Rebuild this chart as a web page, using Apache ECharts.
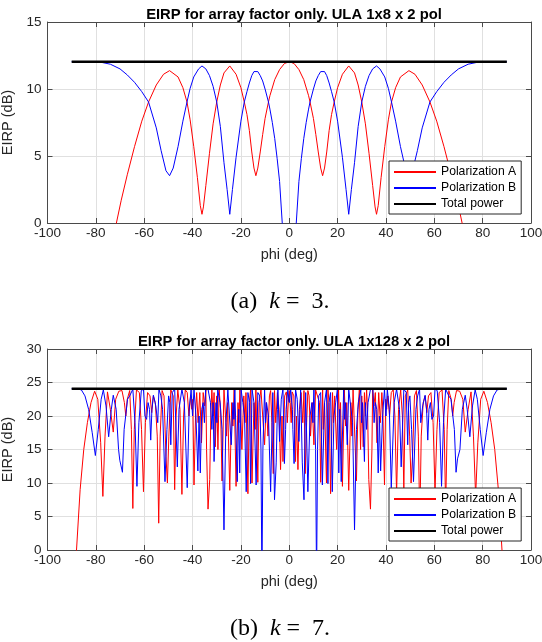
<!DOCTYPE html>
<html>
<head>
<meta charset="utf-8">
<script src="https://cdn.jsdelivr.net/npm/echarts@6/dist/echarts.min.js"></script>
<style>html,body{margin:0;padding:0;background:#fff}#c{width:542px;height:642px}</style>
</head>
<body>
<div id="c"></div>
<script>
// ---------- Texts / ticks ----------
const titleA = 'EIRP for array factor only. ULA 1x8 x 2 pol';
const titleB = 'EIRP for array factor only. ULA 1x128 x 2 pol';
const xTicks = [-100, -80, -60, -40, -20, 0, 20, 40, 60, 80, 100];
const yMaxA = 15, yMaxB = 30, yStep = 5;

// ---------- Data: (a) k = 3, ULA 1x8 x 2 pol ----------
const totalA = [[-90, 12.04], [90, 12.04]];

const polA_k3 = [[-90,-30],[-86,-20],[-82,-13],[-78,-7],[-74,-2.5],[-71.5,0],[-69.5,1.7],[-67,3.6],[-64,5.7],[-61,7.6],[-58.2,9.03],[-55,10.3],[-52,11.1],[-49.5,11.37],[-46,10.9],[-44,10.1],[-42.3,9.03],[-41,7.7],[-39.5,5.7],[-38,3.4],[-36.8,1.3],[-36.1,0.65],[-35.5,1.2],[-34.5,2.8],[-33,5.2],[-31.5,7.4],[-30,9.03],[-28.5,10.3],[-27,11.2],[-24.6,11.72],[-22,11.1],[-20,10.1],[-18.6,9.03],[-17.5,8.1],[-16.5,6.9],[-15.5,5.3],[-14.6,4.1],[-13.8,3.53],[-13,4.1],[-12,5.3],[-11,6.6],[-10,7.8],[-8.6,9.03],[-8,9.5],[-6,10.7],[-4,11.45],[-2,11.9],[0,12.04],
[2,11.9],[4,11.45],[6,10.7],[8,9.5],[8.6,9.03],[10,7.8],[11,6.6],[12,5.3],[13,4.1],[13.8,3.53],[14.6,4.1],[15.5,5.3],[16.5,6.9],[17.5,8.1],[18.6,9.03],[20,10.1],[22,11.1],[24.6,11.72],[27,11.2],[28.5,10.3],[30,9.03],[31.5,7.4],[33,5.2],[34.5,2.8],[35.5,1.2],[36.1,0.65],[36.8,1.3],[38,3.4],[39.5,5.7],[41,7.7],[42.3,9.03],[44,10.1],[46,10.9],[49.5,11.37],[52,11.1],[55,10.3],[58.2,9.03],[61,7.6],[64,5.7],[67,3.6],[69.5,1.7],[71.5,0],[74,-2.5],[78,-7],[82,-13],[86,-20],[90,-30]];

const polB_k3 = [[-90,12.04],[-82,12.04],[-78,12.0],[-74,11.85],[-70,11.5],[-67,11.05],[-64,10.5],[-61,9.8],[-58.2,9.03],[-55,7.1],[-53,5.4],[-51,3.9],[-49.5,3.53],[-48,4.1],[-46,5.7],[-44,7.6],[-42.3,9.03],[-41,10.05],[-39.5,10.9],[-37.5,11.5],[-36.1,11.72],[-34.5,11.5],[-33,11.0],[-31.5,10.2],[-30,9.03],[-28.5,7.2],[-27,4.5],[-25.7,2.5],[-24.6,0.65],[-23.5,2.5],[-22,4.9],[-20,7.6],[-18.6,9.03],[-17.5,9.8],[-16.5,10.45],[-15.5,11.0],[-14.6,11.3],[-13.8,11.38],[-13,11.3],[-12,11.0],[-11,10.6],[-10,10.0],[-8.6,9.03],[-8,8.5],[-7,7.5],[-6,6.3],[-5,4.8],[-4,3.1],[-2.9,0],[-2,-2.9],[-1,-9],[0,-30],
[1,-9],[2,-2.9],[2.9,0],[4,3.1],[5,4.8],[6,6.3],[7,7.5],[8,8.5],[8.6,9.03],[10,10.0],[11,10.6],[12,11.0],[13,11.3],[13.8,11.38],[14.6,11.3],[15.5,11.0],[16.5,10.45],[17.5,9.8],[18.6,9.03],[20,7.6],[22,4.9],[23.5,2.5],[24.6,0.65],[25.7,2.5],[27,4.5],[28.5,7.2],[30,9.03],[31.5,10.2],[33,11.0],[34.5,11.5],[36.1,11.72],[37.5,11.5],[39.5,10.9],[41,10.05],[42.3,9.03],[44,7.6],[46,5.7],[48,4.1],[49.5,3.53],[51,3.9],[53,5.4],[55,7.1],[58.2,9.03],[61,9.8],[64,10.5],[67,11.05],[70,11.5],[74,11.85],[78,12.0],[82,12.04],[90,12.04]];

// ---------- Data: (b) k = 7, ULA 1x128 x 2 pol ----------
const totalB = [[-90, 24.08], [90, 24.08]];

const polA_k7 = [[-90,-30],[-88,0],[-86.5,9],[-85,15],[-83.5,19],[-82,22],[-80.5,23.7],[-79.2,22.5],[-78,16],[-77.1,8],[-76.2,17],[-75.2,23.6],[-74,21],[-72.8,17.6],[-71.8,22.5],[-70.5,23.7],[-69.2,23.8],[-68.2,22],[-67.6,20],[-67,22.5],[-66,23.8],[-65.3,18],[-64.7,6.2],[-64.1,18],[-63.2,23.9],[-62,23.5],[-61.1,18],[-60.3,8.7],[-59.5,19],[-58.6,23.5],[-57.6,23],[-56.9,20.5],[-56.2,23],[-55.4,22],[-54.6,17],[-54,4],[-53.4,17],[-52.6,23.8],[-51.8,23],[-51,14],[-50.4,10],[-49.8,17],[-49,23.9],[-48,23],[-47.4,9],[-46.8,20],[-46.1,23.9],[-45.2,21],[-44.4,8.3],[-43.7,20],[-43,23.9],[-42.2,23.5],[-41.5,20],
[-40.8,23],[-40.3,21],[-39.9,22.5],[-39.4,9.7],[-38.7,21],[-38.3,23.5],[-37.7,19],[-37,23.5],[-36.3,16],[-35.6,23.5],[-35,21.5],[-34.5,23.9],[-34.2,15],[-33.6,6.1],[-32.9,10.5],[-32.4,21],[-32,23.9],[-31.5,20],[-31.1,23.5],[-30.6,15.4],[-30,23],[-29.5,15],[-29,23.9],[-28.4,21],[-27.8,10.3],[-27,24],[-26.4,23.9],[-25.9,17],[-25.5,22],[-24.6,8.9],[-23.8,22],[-23.3,18.5],[-22.8,23.9],[-22,9.5],[-21.2,22],[-20.8,19],[-20.4,23.9],[-19.6,15],[-18.8,23],[-18.3,19],[-17.9,23.5],[-17.1,8.4],[-16.5,22],[-16,23.9],[-15.4,10],[-14.6,22],[-14.1,18],[-13.8,23.9],[-13,10.1],[-12.5,22],[-11.7,23.9],[-11.3,24],[-10.9,23.9],[-10.2,15.7],[-9.5,22],[-8.8,17],[-8.2,23],[-7.7,23.8],[-7.2,19],[-6.6,11.4],[-6.1,23.8],[-5.6,19],[-4.9,23.5],[-4.2,21],[-3.6,12],[-3,20],[-2.6,13.2],[-1.9,23],[-1.2,23.6],[-0.8,19],[-0.4,22],[0,23.8],
[0.4,22],[0.8,19],[1.2,23.6],[1.9,23],[2.6,13.2],[3,20],[3.6,12],[4.2,21],[4.9,23.5],[5.6,19],[6.1,23.8],[6.6,11.4],[7.2,19],[7.7,23.8],[8.2,23],[8.8,17],[9.5,22],[10.2,15.7],[10.9,23.9],[11.3,24],[11.7,23.9],[12.5,22],[13,10.1],[13.8,23.9],[14.1,18],[14.6,22],[15.4,10],[16,23.9],[16.5,22],[17.1,8.4],[17.9,23.5],[18.3,19],[18.8,23],[19.6,15],[20.4,23.9],[20.8,19],[21.2,22],[22,9.5],[22.8,23.9],[23.3,18.5],[23.8,22],[24.6,8.9],[25.5,22],[25.9,17],[26.4,23.9],[27,24],[27.8,10.3],[28.4,21],[29,23.9],[29.5,15],[30,23],[30.6,15.4],[31.1,23.5],[31.5,20],[32,23.9],[32.4,21],[32.9,10.5],[33.6,6.1],[34.2,15],[34.5,23.9],[35,21.5],[35.6,23.5],[36.3,16],[37,23.5],[37.7,19],[38.3,23.5],[38.7,21],[39.4,9.7],[39.9,22.5],[40.3,21],[40.8,23],
[41.5,20],[42.2,23.5],[43,23.9],[43.7,20],[44.4,8.3],[45.2,21],[46.1,23.9],[46.8,20],[47.4,9],[48,23],[49,23.9],[49.8,17],[50.4,10],[51,14],[51.8,23],[52.6,23.8],[53.4,17],[54,4],[54.6,17],[55.4,22],[56.2,23],[56.9,20.5],[57.6,23],[58.6,23.5],[59.5,19],[60.3,8.7],[61.1,18],[62,23.5],[63.2,23.9],[64.1,18],[64.7,6.2],[65.3,18],[66,23.8],[67,22.5],[67.6,20],[68.2,22],[69.2,23.8],[70.5,23.7],[71.8,22.5],[72.8,17.6],[74,21],[75.2,23.6],[76.2,17],[77.1,8],[78,16],[79.2,22.5],[80.5,23.7],[82,22],[83.5,19],[85,15],[86.5,9],[88,0],[90,-30]];

const polB_k7 = [[-90,24.08],[-88,24.05],[-86,23.9],[-84.5,23],[-83,21],[-81.5,17.5],[-80.2,14.1],[-79,18],[-77.8,22.5],[-76.9,23.9],[-75.8,21.5],[-74.7,16.9],[-73.6,21],[-72.8,23.1],[-71.6,21],[-70.6,15],[-70.1,13.4],[-69.6,13.6],[-69,11.6],[-68.3,18],[-67.6,20.2],[-66.9,22.5],[-66,23],[-64.7,24],[-63.8,19],[-63,9.5],[-62.2,19],[-61.2,23.8],[-60.3,24],[-59.7,20],[-59,19.5],[-58.4,22],[-57.8,21],[-57.3,16.4],[-56.8,21],[-56.2,23.1],[-55.2,21.5],[-54.4,19],[-53.9,24],[-53.1,23],[-52.4,21],[-51.4,10.2],[-50.6,18],[-49.9,23],[-49.4,22],[-49,15.7],[-48.4,23.5],[-47.4,24],[-46.3,12.4],[-45.6,21],[-44.4,24],[-43.4,22],[-42.2,9.3],[-41.4,21],
[-40.6,23.9],[-40,20],[-39.4,24],[-38.6,20],[-37.8,11.8],[-37.3,20],[-36.8,11.5],[-36.2,21],[-35.6,22],[-35.1,19],[-34.6,23.9],[-33.6,24],[-32.6,22],[-32,18],[-31.5,22],[-31.1,13.2],[-30.3,22],[-29.9,19],[-29.6,23.9],[-28.6,22],[-27.8,18],[-27,3],[-26.2,19],[-25.4,23.9],[-24.6,24],[-24,15.7],[-23.3,22],[-22.9,19.5],[-22.5,23.9],[-21.5,10.2],[-20.9,21],[-20.5,11.5],[-19.9,23.9],[-19.2,22],[-18.5,20],[-17.8,8.7],[-17.1,23.5],[-16.4,22],[-16,9.9],[-15.4,24],[-14.6,22],[-13.7,9.7],[-13,23.5],[-12.2,23],[-11.7,15],[-11.3,-5],[-10.9,15],[-10.2,24],[-9.8,19],[-9.4,22],[-8.6,20],[-7.7,8.7],[-6.8,23.5],[-6.1,7.5],[-5.4,13],[-4.9,21],[-4.7,23.9],[-4,16.2],[-3.3,22.5],[-2.6,24],[-2,12.9],[-1.5,18],[-1.3,21],[-0.6,23.9],[0,22],
[0.6,23.9],[1.3,21],[1.5,18],[2,12.9],[2.6,24],[3.3,22.5],[4,16.2],[4.7,23.9],[4.9,21],[5.4,13],[6.1,7.5],[6.8,23.5],[7.7,8.7],[8.6,20],[9.4,22],[9.8,19],[10.2,24],[10.9,15],[11.3,-5],[11.7,15],[12.2,23],[13,23.5],[13.7,9.7],[14.6,22],[15.4,24],[16,9.9],[16.4,22],[17.1,23.5],[17.8,8.7],[18.5,20],[19.2,22],[19.9,23.9],[20.5,11.5],[20.9,21],[21.5,10.2],[22.5,23.9],[22.9,19.5],[23.3,22],[24,15.7],[24.6,24],[25.4,23.9],[26.2,19],[27,3],[27.8,18],[28.6,22],[29.6,23.9],[29.9,19],[30.3,22],[31.1,13.2],[31.5,22],[32,18],[32.6,22],[33.6,24],[34.6,23.9],[35.1,19],[35.6,22],[36.2,21],[36.8,11.5],[37.3,20],[37.8,11.8],[38.6,20],[39.4,24],[40,20],[40.6,23.9],
[41.4,21],[42.2,9.3],[43.4,22],[44.4,24],[45.6,21],[46.3,12.4],[47.4,24],[48.4,23.5],[49,15.7],[49.4,22],[49.9,23],[50.6,18],[51.4,10.2],[52.4,21],[53.1,23],[53.9,24],[54.4,19],[55.2,21.5],[56.2,23.1],[56.8,21],[57.3,16.4],[57.8,21],[58.4,22],[59,19.5],[59.7,20],[60.3,24],[61.2,23.8],[62.2,19],[63,9.5],[63.8,19],[64.7,24],[66,23],[66.9,22.5],[67.6,20.2],[68.3,18],[69,11.6],[69.6,13.6],[70.1,13.4],[70.6,15],[71.6,21],[72.8,23.1],[73.6,21],[74.7,16.9],[75.8,21.5],[76.9,23.9],[77.8,22.5],[79,18],[80.2,14.1],[81.5,17.5],[83,21],[84.5,23],[86,23.9],[88,24.05],[90,24.08]];

// ---------- Styles ----------
const FONT = '"Liberation Sans", Arial, Helvetica, sans-serif';
const SERIF = '"Liberation Serif", "Times New Roman", serif';
const AX = '#262626';
const FRAME = '#4a4a4a';
const GRID = '#e0e0e0';

function bottomX(gridIndex) {
  return {
    type: 'value', gridIndex, min: xTicks[0], max: xTicks[xTicks.length - 1], interval: 20,
    name: 'phi (deg)', nameLocation: 'middle', nameGap: 24,
    nameTextStyle: { fontFamily: FONT, fontSize: 14.5, color: AX },
    axisLine: { show: true, onZero: false, lineStyle: { color: FRAME, width: 1 } },
    axisTick: { show: true, inside: true, length: 5, lineStyle: { color: FRAME } },
    axisLabel: { fontFamily: FONT, fontSize: 13.5, color: AX, margin: 3 },
    splitLine: { show: true, lineStyle: { color: GRID, width: 1 } }
  };
}
function topX(gridIndex) {
  return {
    type: 'value', gridIndex, position: 'top', min: xTicks[0], max: xTicks[xTicks.length - 1], interval: 20,
    axisLine: { show: true, onZero: false, lineStyle: { color: FRAME, width: 1 } },
    axisTick: { show: true, inside: true, length: 5, lineStyle: { color: FRAME } },
    axisLabel: { show: false }, splitLine: { show: false }
  };
}
function leftY(gridIndex, max) {
  return {
    type: 'value', gridIndex, min: 0, max, interval: yStep,
    name: 'EIRP (dB)', nameLocation: 'middle', nameGap: 25,
    nameTextStyle: { fontFamily: FONT, fontSize: 14.5, color: AX },
    axisLine: { show: true, onZero: false, lineStyle: { color: FRAME, width: 1 } },
    axisTick: { show: true, inside: true, length: 5, lineStyle: { color: FRAME } },
    axisLabel: { fontFamily: FONT, fontSize: 13.5, color: AX, margin: 6 },
    splitLine: { show: true, lineStyle: { color: GRID, width: 1 } }
  };
}
function rightY(gridIndex, max) {
  return {
    type: 'value', gridIndex, position: 'right', min: 0, max, interval: yStep,
    axisLine: { show: true, onZero: false, lineStyle: { color: FRAME, width: 1 } },
    axisTick: { show: true, inside: true, length: 5, lineStyle: { color: FRAME } },
    axisLabel: { show: false }, splitLine: { show: false }
  };
}
function line(name, data, xi, yi, color, width, z) {
  return {
    type: 'line', name, data, xAxisIndex: xi, yAxisIndex: yi,
    symbol: 'none', showSymbol: false, clip: true, z,
    lineStyle: { color, width }, itemStyle: { color }, emphasis: { disabled: true }
  };
}
function legend(top) {
  return {
    orient: 'vertical', left: 389, top, itemWidth: 42, itemHeight: 12, itemGap: 4,
    padding: [5, 5, 4, 4],
    backgroundColor: '#fff', borderColor: AX, borderWidth: 1,
    textStyle: { fontFamily: FONT, fontSize: 12.2, color: '#000' },
    itemStyle: { opacity: 0, borderWidth: 0 },
    data: ['Polarization A', 'Polarization B', 'Total power'],
    selectedMode: false
  };
}
function caption(letter, k, top) {
  return {
    text: '{n|(' + letter + ')  }{k|k}{n| =  ' + k + '.}',
    left: 275, top, textAlign: 'center',
    textStyle: { fontWeight: 'normal', rich: {
      n: { fontFamily: SERIF, fontSize: 24, fontWeight: 'normal', color: '#000' },
      k: { fontFamily: SERIF, fontSize: 24, fontWeight: 'normal', fontStyle: 'italic', color: '#000' }
    } }
  };
}

const chart = echarts.init(document.getElementById('c'), null, { renderer: 'canvas', width: 542, height: 642 });
chart.setOption({
  animation: false,
  backgroundColor: '#fff',
  title: [
    { text: titleA, left: 289, top: 2, textAlign: 'center', textStyle: { fontFamily: FONT, fontSize: 14.8, fontWeight: 'bold', color: '#000' } },
    { text: titleB, left: 289, top: 329, textAlign: 'center', textStyle: { fontFamily: FONT, fontSize: 14.8, fontWeight: 'bold', color: '#000' } },
    caption('a', 3, 285),
    caption('b', 7, 612)
  ],
  legend: [legend(161), legend(488)],
  grid: [
    { left: 47.5, top: 22, width: 483.5, height: 201, containLabel: false, outerBoundsMode: 'none' },
    { left: 47.5, top: 349, width: 483.5, height: 201, containLabel: false, outerBoundsMode: 'none' }
  ],
  xAxis: [bottomX(0), topX(0), bottomX(1), topX(1)],
  yAxis: [leftY(0, yMaxA), rightY(0, yMaxA), leftY(1, yMaxB), rightY(1, yMaxB)],
  series: [
    line('Polarization A', polA_k3, 0, 0, '#ff0000', 1, 2),
    line('Polarization B', polB_k3, 0, 0, '#0000ff', 1, 3),
    line('Total power', totalA, 0, 0, '#000000', 2.5, 4),
    line('Polarization A', polA_k7, 2, 2, '#ff0000', 1, 2),
    line('Polarization B', polB_k7, 2, 2, '#0000ff', 1, 3),
    line('Total power', totalB, 2, 2, '#000000', 2.5, 4)
  ]
});
</script>
</body>
</html>
